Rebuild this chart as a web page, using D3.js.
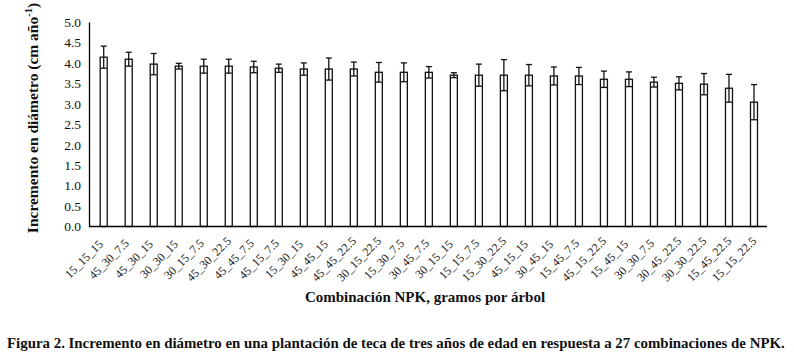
<!DOCTYPE html>
<html>
<head>
<meta charset="utf-8">
<script src="https://cdn.jsdelivr.net/npm/d3@7"></script>
<style>
  html, body { margin: 0; padding: 0; background: #fff; }
  svg { display: block; }
  svg text { font-family: "Liberation Serif", "DejaVu Serif", serif; }
</style>
</head>
<body>
<svg id="chart" width="794" height="360"></svg>
<script>
const categories = ["15_15_15","45_30_7.5","45_30_15","30_30_15","30_15_7.5","45_30_22.5","45_45_7.5","45_15_7.5","15_30_15","45_45_15","45_45_22.5","30_15_22.5","15_30_7.5","30_45_7.5","30_15_15","15_15_7.5","15_30_22.5","45_15_15","30_45_15","15_45_7.5","45_15_22.5","15_45_15","30_30_7.5","30_45_22.5","30_30_22.5","15_45_22.5","15_15_22.5"];
const values = [4.14,4.09,3.97,3.92,3.92,3.92,3.90,3.87,3.85,3.85,3.85,3.77,3.77,3.77,3.70,3.70,3.70,3.70,3.68,3.68,3.60,3.60,3.53,3.50,3.48,3.38,3.04];
const errors = [0.27,0.17,0.26,0.07,0.17,0.17,0.14,0.10,0.15,0.27,0.17,0.24,0.23,0.14,0.06,0.27,0.38,0.26,0.22,0.21,0.20,0.18,0.12,0.16,0.26,0.34,0.43];
const yTicks = [0,0.5,1,1.5,2,2.5,3,3.5,4,4.5,5];
const yTitle = "Incremento en diámetro (cm año";
const xTitle = "Combinación NPK, gramos por árbol";
const caption = "Figura 2. Incremento en diámetro en una plantación de teca de tres años de edad en respuesta a 27 combinaciones de NPK.";

const FONT = '"Liberation Serif", "DejaVu Serif", serif';
const svg = d3.select("#chart");
const data = categories.map((c, i) => ({ cat: c, v: values[i], e: errors[i] }));

const x = d3.scaleBand().domain(categories).range([91.2, 766.5]).paddingInner(0.72).paddingOuter(0.36);
const y = d3.scaleLinear().domain([0, 5]).range([226.5, 22]);

// Y axis
const yAxis = d3.axisLeft(y).tickValues(yTicks).tickSize(0).tickPadding(8).tickFormat(d3.format(".1f"));
const gy = svg.append("g").attr("transform", "translate(89,0)").call(yAxis)
  .attr("font-family", FONT).attr("font-size", 13.5);
gy.select(".domain").attr("stroke", "#000").attr("stroke-width", 1.3);
gy.selectAll("text").attr("font-size", 13.5).attr("fill", "#111").attr("font-family", FONT);

// bars
svg.append("g").selectAll("rect").data(data).join("rect")
  .attr("x", d => x(d.cat))
  .attr("y", d => y(d.v))
  .attr("width", x.bandwidth())
  .attr("height", d => y(0) - y(d.v))
  .attr("fill", "#fff")
  .attr("stroke", "#111")
  .attr("stroke-width", 1.3);

// error bars
const cap = 3;
const eg = svg.append("g").attr("stroke", "#111").attr("stroke-width", 1.3).attr("fill", "none");
data.forEach(d => {
  const cx = x(d.cat) + x.bandwidth() / 2;
  eg.append("line").attr("x1", cx).attr("x2", cx).attr("y1", y(d.v + d.e)).attr("y2", y(d.v - d.e));
  eg.append("line").attr("x1", cx - cap).attr("x2", cx + cap).attr("y1", y(d.v + d.e)).attr("y2", y(d.v + d.e));
  eg.append("line").attr("x1", cx - cap).attr("x2", cx + cap).attr("y1", y(d.v - d.e)).attr("y2", y(d.v - d.e));
});

// X axis line
const xAxis = d3.axisBottom(x).tickSize(0).tickFormat("");
const gx = svg.append("g").attr("transform", `translate(0,${y(0)})`).call(xAxis);
gx.select(".domain").attr("d", `M89,0H767`).attr("stroke", "#000").attr("stroke-width", 1.3);

// x tick labels rotated
svg.append("g").selectAll("text").data(categories).join("text")
  .attr("transform", d => `translate(${x(d) + x.bandwidth() / 2 - 17},${262}) rotate(-45)`)
  .attr("text-anchor", "middle")
  .attr("font-family", FONT)
  .attr("font-size", 12)
  .attr("fill", "#222")
  .text(d => d);

// y title
const yt = svg.append("text")
  .attr("transform", "translate(38,118) rotate(-90)")
  .attr("text-anchor", "middle")
  .attr("font-family", FONT)
  .attr("font-size", 15.5)
  .attr("font-weight", "bold")
  .attr("fill", "#111");
yt.append("tspan").text(yTitle);
yt.append("tspan").attr("font-size", 10.5).attr("dy", -6).text("-1");
yt.append("tspan").attr("dy", 6).text(")");

// x title
svg.append("text")
  .attr("x", 425).attr("y", 302)
  .attr("text-anchor", "middle")
  .attr("font-family", FONT)
  .attr("font-size", 15)
  .attr("font-weight", "bold")
  .attr("fill", "#111")
  .text(xTitle);

// caption
const cap2 = svg.append("text")
  .attr("x", 7).attr("y", 348)
  .attr("font-family", FONT)
  .attr("font-size", 14)
  .attr("font-weight", "bold")
  .attr("fill", "#111")
  .text(caption);
const w = cap2.node().getComputedTextLength();
cap2.attr("font-size", 14 * 779 / w);
</script>
</body>
</html>
